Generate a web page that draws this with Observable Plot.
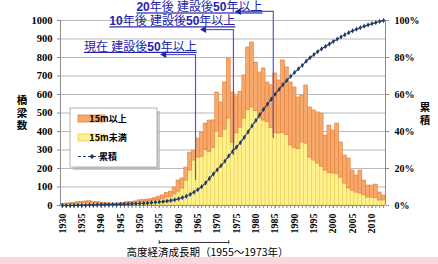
<!DOCTYPE html>
<html><head><meta charset="utf-8">
<script src="https://cdn.jsdelivr.net/npm/d3@7"></script>
<script src="https://cdn.jsdelivr.net/npm/@observablehq/plot@0.6"></script>
<style>
html,body{margin:0;padding:0;background:#fff;}
svg{display:block;overflow:visible;}
</style>
</head><body><div id="chart"></div>
<script>
// ---- data ----
const firstYear = 1930, lastYear = 2013;
const years = d3.range(firstYear, lastYear + 1);
const under15 = [ // 15m未満
  5, 6, 7, 8, 10, 12, 13, 14, 12, 11,
  10, 9, 8, 6, 6, 8, 10, 11, 12, 14,
  18, 19, 20, 22, 27, 30, 35, 43, 45, 60,
  75, 92, 135, 189, 243, 259, 262, 300, 290, 310,
  400, 370, 410, 470, 340, 390, 420, 470, 515, 530,
  510, 470, 459, 450, 420, 392, 389, 392, 380, 325,
  310, 305, 341, 335, 259, 243, 227, 210, 189, 175,
  173, 170, 151, 119, 92, 80, 70, 65, 55, 43,
  43, 40, 27, 27];
const over15 = [ // 15m以上
  3, 4, 5, 6, 8, 8, 9, 10, 8, 7,
  6, 5, 4, 4, 4, 4, 5, 7, 8, 8,
  10, 11, 12, 13, 15, 18, 20, 25, 30, 37,
  60, 54, 70, 97, 54, 103, 133, 143, 169, 150,
  211, 187, 255, 325, 271, 200, 195, 233, 339, 351,
  263, 249, 282, 215, 230, 322, 287, 392, 366, 340,
  328, 279, 253, 314, 271, 271, 276, 287, 189, 257,
  232, 273, 190, 151, 162, 109, 92, 124, 80, 65,
  65, 73, 43, 27];
const cumulative = [ // 累積 (%)
  0, 0, 0, 0.1, 0.1, 0.2, 0.2, 0.3, 0.3, 0.4,
  0.4, 0.5, 0.5, 0.6, 0.6, 0.7, 0.7, 0.8, 0.9, 1.0,
  1.1, 1.2, 1.3, 1.5, 1.7, 1.9, 2.1, 2.4, 2.7, 3.1,
  3.6, 4.2, 5.0, 6.0, 7.2, 8.6, 10.2, 12.2, 14.6, 17.0,
  19.3, 21.5, 24.0, 26.8, 29.2, 31.6, 34.0, 36.8, 39.8, 43.0,
  46.0, 49.0, 52.0, 54.8, 57.5, 60.2, 62.8, 65.3, 67.6, 69.8,
  71.9, 73.9, 75.8, 78.0, 79.9, 81.6, 83.2, 84.7, 86.0, 87.3,
  88.6, 89.9, 91.1, 92.3, 93.4, 94.4, 95.3, 96.1, 96.9, 97.6,
  98.3, 98.9, 99.5, 100];
const leftTicks = [0, 100, 200, 300, 400, 500, 600, 700, 800, 900, 1000];
const rightTicks = [0, 200, 400, 600, 800, 1000];
const rightTickLabels = ["0%", "20%", "40%", "60%", "80%", "100%"];
const labelYears = [1930, 1935, 1940, 1945, 1950, 1955, 1960, 1965, 1970, 1975, 1980, 1985, 1990, 1995, 2000, 2005, 2010];
const seriesNames = ["15m以上", "15m未満", "累積"];
const leftTitle = ["橋", "梁", "数"];
const rightTitle = ["累", "積"];
const annotations = [
  {label: "現在 建設後50年以上", line: 1964.4, top: 816, bottom: 135, tip: 1956.3, textEnd: 1964.7, textY: 857},
  {label: "10年後 建設後50年以上", line: 1974.2, top: 951, bottom: 270, tip: 1966.6, textEnd: 1974.7, textY: 995},
  {label: "20年後 建設後50年以上", line: 1984.5, top: 1049, bottom: 362, tip: 1975.6, textEnd: 1981.7, textY: 1070}
];
const period = [{start: 1955, end: 1973, mid: 1967.5, label: "高度経済成長期（1955～1973年）"}];

// ---- build ----
const rows = years.map((year, i) => ({year, under: under15[i], over: over15[i], cum: cumulative[i]}));
const navy = "#1f3a68", annBlue = "#2424a8", annLine = "#5555d0";
const cjk = "'Noto Sans CJK JP', sans-serif";
const annFont = "'Liberation Sans', 'Noto Sans CJK JP', sans-serif";
const serif = "'Liberation Serif', serif";
const x0 = firstYear - 0.5, x1 = lastYear + 0.5;

const chart = Plot.plot({
  width: 438, height: 264,
  marginLeft: 60, marginRight: 53, marginTop: 20, marginBottom: 59,
  x: {domain: [x0, x1], axis: null},
  y: {domain: [0, 1000], axis: null},
  style: {fontFamily: serif, fontSize: "10px", fontWeight: "bold", color: "#000", background: "#fff", overflow: "visible"},
  marks: [
    Plot.gridY(leftTicks, {stroke: "#b9b9b9", strokeOpacity: 1}),
    Plot.rect(rows, {x1: d => d.year - 0.5, x2: d => d.year + 0.5, y1: () => 0, y2: "under",
      fill: "#fff18e", stroke: "#e9cd52", strokeWidth: 0.6}),
    Plot.rect(rows, {x1: d => d.year - 0.5, x2: d => d.year + 0.5, y1: "under", y2: d => d.under + d.over,
      fill: "#f7a86b", stroke: "#e47f3a", strokeWidth: 0.6}),
    Plot.ruleY([0], {stroke: "#8c8c8c"}),
    Plot.ruleX([x0, x1], {stroke: "#8c8c8c"}),
    Plot.axisY(leftTicks, {anchor: "left", tickSize: 3, tickPadding: 5, stroke: "#8c8c8c",
      fontSize: 10.5, fontFamily: serif, fontWeight: "bold", tickFormat: d => String(d)}),
    Plot.axisY(rightTicks, {anchor: "right", tickSize: 3, tickPadding: 6, stroke: "#8c8c8c",
      fontSize: 10, fontFamily: serif, fontWeight: "bold", tickFormat: d => rightTickLabels[rightTicks.indexOf(d)]}),
    Plot.axisX(years, {anchor: "bottom", tickSize: 3, tickFormat: () => "", stroke: "#8c8c8c"}),
    Plot.axisX(labelYears, {anchor: "bottom", tickSize: 3, tickPadding: 5, tickRotate: -90, stroke: "#8c8c8c",
      fontSize: 10, fontFamily: serif, fontWeight: "bold", tickFormat: d => String(d)}),
    Plot.line(rows, {x: "year", y: d => d.cum * 10, stroke: navy, strokeWidth: 1.2, strokeDasharray: "2.5,1.5"}),
    Plot.dot(rows, {x: "year", y: d => d.cum * 10, r: 1.6, fill: navy, symbol: "diamond"}),
    // annotations
    Plot.ruleX(annotations, {x: "line", y1: "bottom", y2: "top", stroke: annLine, strokeWidth: 1.2}),
    Plot.link(annotations, {x1: "line", x2: "tip", y1: "top", y2: "top", stroke: annLine, strokeWidth: 1.2}),
    Plot.dot(annotations, {x: "tip", y: "top", symbol: "triangle", rotate: -90, r: 2.6, fill: annBlue}),
    Plot.text(annotations, {x: "textEnd", y: "textY", text: "label", textAnchor: "end", lineAnchor: "middle",
      fill: annBlue, fontSize: 12, fontFamily: annFont, fontWeight: "normal"}),
    // high-growth period
    Plot.link(period, {x1: "start", x2: "end", y1: () => -200, y2: () => -200, stroke: "#000", strokeWidth: 0.8}),
    Plot.ruleX(period, {x: "start", y1: () => -190, y2: () => -210, stroke: "#000", strokeWidth: 0.8}),
    Plot.ruleX(period, {x: "end", y1: () => -190, y2: () => -210, stroke: "#000", strokeWidth: 0.8}),
    Plot.text(period, {x: "mid", y: () => -254, text: "label", fontSize: 10.5, fontFamily: cjk, fontWeight: "normal", fill: "#000"})
  ]
});
document.getElementById("chart").appendChild(chart);

// post-process annotation text: underline and bold digits
d3.select(chart).selectAll("text").filter(function() { return this.textContent.includes("建設後"); })
  .each(function() {
    const s = this.textContent;
    const t = d3.select(this);
    t.text(null).attr("text-decoration", "underline");
    s.split(/(\d+)/).filter(p => p.length).forEach(p => {
      t.append("tspan").attr("font-weight", /\d/.test(p) ? "bold" : "normal").text(p);
    });
  });

// titles, legend and bottom band
const svg = d3.select(chart);
const g = svg.append("g").attr("font-family", annFont).attr("font-weight", "bold");
leftTitle.forEach((c, i) => g.append("text").attr("x", 22).attr("y", 100 + i * 12.5)
  .attr("text-anchor", "middle").attr("dominant-baseline", "central").attr("font-size", 10.5).text(c));
rightTitle.forEach((c, i) => g.append("text").attr("x", 425).attr("y", 107 + i * 12.5)
  .attr("text-anchor", "middle").attr("dominant-baseline", "central").attr("font-size", 10.5).text(c));

const lg = svg.append("g").attr("font-family", cjk).attr("font-weight", "bold").attr("font-size", 9);
lg.append("rect").attr("x", 73).attr("y", 111).attr("width", 87).attr("height", 59).attr("fill", "#b5b5b5").attr("opacity", 0.7);
lg.append("rect").attr("x", 70).attr("y", 108).attr("width", 87).attr("height", 59).attr("fill", "#fff").attr("stroke", "#a0a0a0").attr("stroke-width", 0.8);
lg.append("rect").attr("x", 78).attr("y", 115).attr("width", 27).attr("height", 7).attr("fill", "#f7a86b").attr("stroke", "#e47f3a").attr("stroke-width", 0.8);
lg.append("rect").attr("x", 78).attr("y", 134).attr("width", 27).attr("height", 7).attr("fill", "#fff18e").attr("stroke", "#e9cd52").attr("stroke-width", 0.8);
lg.append("line").attr("x1", 78).attr("x2", 105).attr("y1", 156.5).attr("y2", 156.5).attr("stroke", navy).attr("stroke-width", 1.2).attr("stroke-dasharray", "3,2");
lg.append("path").attr("d", "M92,154 L94.5,156.5 L92,159 L89.5,156.5Z").attr("fill", navy);
[118.5, 137.5, 156].forEach((yy, i) => lg.append("text").attr("x", 108).attr("y", yy)
  .attr("dominant-baseline", "central").text(seriesNames[i]));

svg.append("rect").attr("x", 0).attr("y", 257).attr("width", 438).attr("height", 7).attr("fill", "#fcd6dd");
</script>
</body></html>
